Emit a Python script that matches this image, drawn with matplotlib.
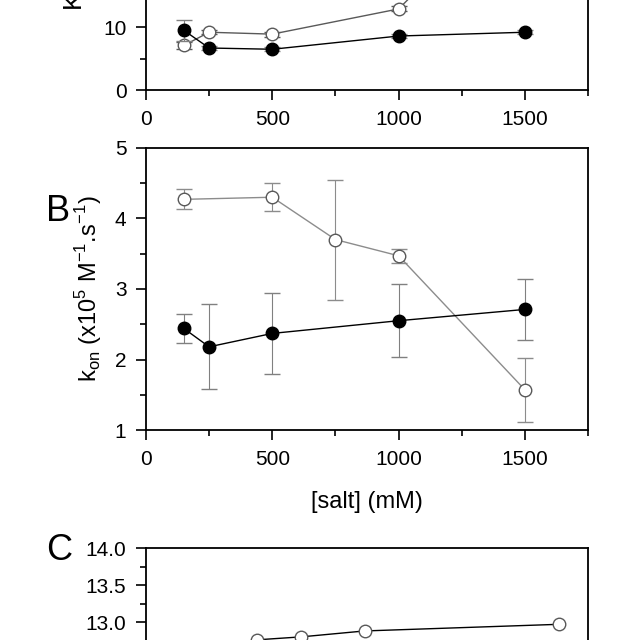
import matplotlib
matplotlib.use("Agg")
import matplotlib.pyplot as plt
from matplotlib.ticker import MultipleLocator, FormatStrFormatter

plt.rcParams["font.family"] = ["Liberation Sans", "DejaVu Sans"]
plt.rcParams["font.size"] = 15

salt_a_filled = [150, 250, 500, 1000, 1500]
kd_filled = [9.5, 6.7, 6.5, 8.6, 9.2]
kd_filled_err = [1.7, 0.3, 0.3, 0.3, 0.3]
salt_a_open = [150, 250, 500, 1000, 1500]
kd_open = [7.1, 9.2, 8.9, 12.9, 33.0]
kd_open_err = [0.6, 0.3, 0.4, 0.4, 0.5]

salt_b_filled = [150, 250, 500, 1000, 1500]
kon_filled = [2.44, 2.18, 2.37, 2.55, 2.71]
kon_filled_err = [0.21, 0.6, 0.57, 0.52, 0.43]
salt_b_open = [150, 500, 750, 1000, 1500]
kon_open = [4.27, 4.30, 3.70, 3.47, 1.57]
kon_open_err = [0.14, 0.2, 0.85, 0.1, 0.45]

salt_c_open = [430, 440, 615, 865, 1636]
c_open = [12.68, 12.76, 12.80, 12.88, 12.97]

fig = plt.figure(figsize=(6.4, 6.4), dpi=100)


def style(ax):
    ax.tick_params(which="major", direction="out", length=7, width=1.2, pad=7,
                   top=False, right=False, labelsize=15)
    ax.tick_params(which="minor", direction="out", length=4, width=1.2, top=False, right=False)
    for s in ax.spines.values():
        s.set_linewidth(1.3)
    ax.set_xlim(0, 1750)
    ax.xaxis.set_major_locator(MultipleLocator(500))
    ax.xaxis.set_minor_locator(MultipleLocator(250))


# panel A
ax_a = fig.add_axes([0.228, 0.859, 0.691, 0.394])
style(ax_a)
ax_a.errorbar(salt_a_open, kd_open, yerr=kd_open_err, fmt="o-", color="0.35",
              mfc="white", mec="0.35", ms=9, lw=1, capsize=6, elinewidth=0.8, zorder=2)
ax_a.errorbar(salt_a_filled, kd_filled, yerr=kd_filled_err, fmt="o-", color="black",
              mfc="black", ecolor="0.5", ms=9, lw=1, capsize=6, elinewidth=0.8, zorder=3)
ax_a.set_ylim(0, 40)
ax_a.yaxis.set_major_locator(MultipleLocator(10))
ax_a.yaxis.set_minor_locator(MultipleLocator(5))
ax_a.set_xlabel("[salt] (mM)", fontsize=17, labelpad=16)
ax_a.set_ylabel("K$_\\mathregular{D}$ (nM)", fontsize=19, labelpad=10)

# panel B
ax_b = fig.add_axes([0.228, 0.328, 0.691, 0.441])
style(ax_b)
ax_b.errorbar(salt_b_open, kon_open, yerr=kon_open_err, fmt="o-", color="0.55",
              mfc="white", mec="0.35", ms=9, lw=1, capsize=6, elinewidth=0.8, zorder=2)
ax_b.errorbar(salt_b_filled, kon_filled, yerr=kon_filled_err, fmt="o-", color="black",
              mfc="black", ecolor="0.5", ms=9, lw=1, capsize=6, elinewidth=0.8, zorder=3)
ax_b.set_ylim(1, 5)
ax_b.yaxis.set_major_locator(MultipleLocator(1))
ax_b.yaxis.set_minor_locator(MultipleLocator(0.5))
ax_b.set_xlabel("[salt] (mM)", fontsize=17, labelpad=16)
ax_b.set_ylabel("k$_\\mathregular{on}$ (x10$^\\mathregular{5}$ M$^\\mathregular{-1}$.s$^\\mathregular{-1}$)",
                fontsize=17, labelpad=8)
fig.text(0.072, 0.655, "B", fontsize=26)

# panel C
ax_c = fig.add_axes([0.228, -0.0875, 0.691, 0.231])
style(ax_c)
ax_c.plot(salt_c_open, c_open, "o-", color="black", mfc="white", mec="0.35", ms=9, lw=1)
ax_c.set_ylim(12.0, 14.0)
ax_c.yaxis.set_major_locator(MultipleLocator(0.5))
ax_c.yaxis.set_minor_locator(MultipleLocator(0.25))
ax_c.yaxis.set_major_formatter(FormatStrFormatter("%.1f"))
fig.text(0.072, 0.125, "C", fontsize=26)

fig.savefig("out.png", dpi=100)
